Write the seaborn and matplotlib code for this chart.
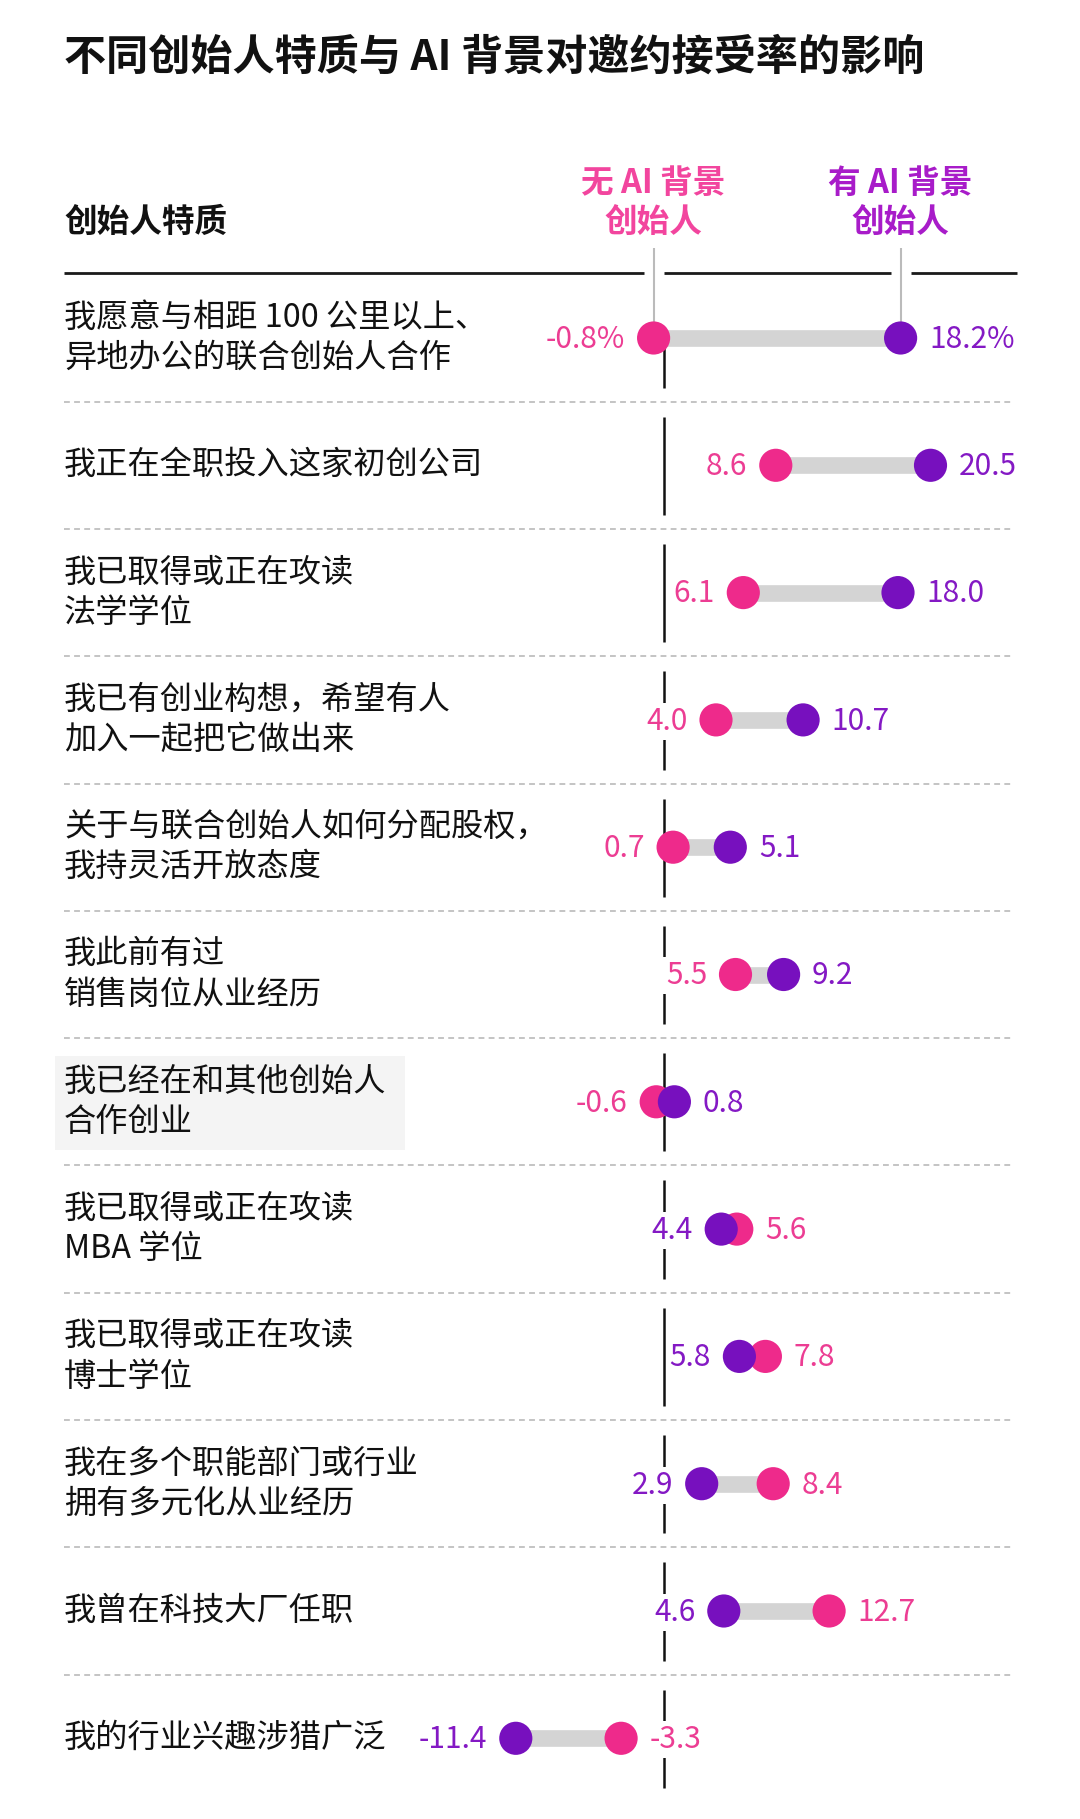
import matplotlib
matplotlib.use("Agg")
import matplotlib.pyplot as plt
from matplotlib.patches import Rectangle
import pandas as pd
import seaborn as sns

# 数据
traits = [
    "我愿意与相距 100 公里以上、\n异地办公的联合创始人合作",
    "我正在全职投入这家初创公司",
    "我已取得或正在攻读\n法学学位",
    "我已有创业构想，希望有人\n加入一起把它做出来",
    "关于与联合创始人如何分配股权，\n我持灵活开放态度",
    "我此前有过\n销售岗位从业经历",
    "我已经在和其他创始人\n合作创业",
    "我已取得或正在攻读\nMBA 学位",
    "我已取得或正在攻读\n博士学位",
    "我在多个职能部门或行业\n拥有多元化从业经历",
    "我曾在科技大厂任职",
    "我的行业兴趣涉猎广泛",
]
no_ai = [-0.8, 8.6, 6.1, 4.0, 0.7, 5.5, -0.6, 5.6, 7.8, 8.4, 12.7, -3.3]
with_ai = [18.2, 20.5, 18.0, 10.7, 5.1, 9.2, 0.8, 4.4, 5.8, 2.9, 4.6, -11.4]
highlight_row = 6

title = "不同创始人特质与 AI 背景对邀约接受率的影响"
col_header = "创始人特质"
no_ai_header = "无 AI 背景\n创始人"
with_ai_header = "有 AI 背景\n创始人"

PINK = "#EE2A8B"
PURPLE = "#7710BE"
PINK_TXT = "#EC3D93"
PURPLE_TXT = "#8419C4"
PINK_HEAD = "#F2459E"
PURPLE_HEAD = "#A81CC9"

sns.set_theme(style="white")
plt.rcParams["font.family"] = ["Noto Sans CJK SC", "DejaVu Sans"]

W, H = 1080, 1819
X0, XS = 664, 13.0      # 零线像素位置与每单位像素
Y0, YS = 338, 127.3     # 第一行中心与行距


def px_x(px):
    return (px - X0) / XS


def px_y(py):
    return (py - Y0) / YS


fig = plt.figure(figsize=(W / 100, H / 100), dpi=100)
ax = fig.add_axes([0, 0, 1, 1])

n = len(traits)
rows = list(range(n))

# 长表给 seaborn
df = pd.DataFrame({
    "row": rows * 2,
    "value": no_ai + with_ai,
    "group": ["无"] * n + ["有"] * n,
})

# 标题与表头
fig.text(64 / W, 1 - 58 / H, title, fontsize=30.3, fontweight="bold",
         color="#111111", va="center", ha="left")
fig.text(64 / W, 1 - 222 / H, col_header, fontsize=23.5, fontweight="bold",
         color="#111111", va="center", ha="left")
ax.text(no_ai[0], px_y(203), no_ai_header, fontsize=23.5, fontweight="bold",
        color=PINK_HEAD, ha="center", va="center", linespacing=1.25)
ax.text(with_ai[0], px_y(203), with_ai_header, fontsize=23.5, fontweight="bold",
        color=PURPLE_HEAD, ha="center", va="center", linespacing=1.25)

# 表头粗线（在连接线处断开）
gap = 10 / XS
left, right = px_x(64), px_x(1017)
cuts = sorted([no_ai[0], with_ai[0]])
segs = [(left, cuts[0] - gap), (cuts[0] + gap, cuts[1] - gap), (cuts[1] + gap, right)]
for a, b in segs:
    ax.plot([a, b], [px_y(273)] * 2, color="#1a1a1a", lw=2.0, solid_capstyle="butt")
ax.vlines([no_ai[0], with_ai[0]], px_y(248), 0, color="#BBBBBB", lw=1.5, zorder=1)

# 分隔虚线
for i in rows[:-1]:
    ax.plot([px_x(64), px_x(1014)], [i + 0.5] * 2, color="#C4C4C4", lw=1.4,
            linestyle=(0, (3, 2.2)), zorder=0)

# 零线（每行一段）
for i in rows:
    top = i if i == 0 else i - 0.5 + 15 / YS
    ax.plot([0, 0], [top, i + 0.5 - 14 / YS], color="#111111", lw=1.8, zorder=1,
            solid_capstyle="butt")

# 高亮行背景
ax.add_patch(Rectangle((px_x(55), highlight_row - 46 / YS), px_x(405) - px_x(55),
                       94 / YS, facecolor="#F4F4F4", edgecolor="none", zorder=0))

# 行标签
for i, t in enumerate(traits):
    ax.text(px_x(64), i, t, fontsize=23.2, color="#111111", ha="left", va="center",
            linespacing=1.33, zorder=2)

# 连接条
ax.hlines(rows, no_ai, with_ai, color="#D4D4D4", lw=12, zorder=2)

# 圆点
sns.scatterplot(data=df, x="value", y="row", hue="group",
                palette={"无": PINK, "有": PURPLE}, s=570, linewidth=0,
                legend=False, ax=ax, zorder=4)
ax.set_xlim(px_x(0), px_x(W))
ax.set_ylim(px_y(H), px_y(0))
ax.axis("off")

# 数值标签
for i in rows:
    for v, other, c in [(no_ai[i], with_ai[i], PINK_TXT), (with_ai[i], no_ai[i], PURPLE_TXT)]:
        txt = f"{v:.1f}%" if i == 0 else f"{v:.1f}"
        side = -1 if v < other else 1
        ax.annotate(txt, (v, i), xytext=(side * 20.5, -1), textcoords="offset points",
                    ha="right" if side < 0 else "left", va="center",
                    fontsize=21.5, color=c, zorder=3,
                    bbox=dict(boxstyle="square,pad=0.1", fc="white", ec="none"))

fig.savefig("out.png", dpi=100, facecolor="white")
